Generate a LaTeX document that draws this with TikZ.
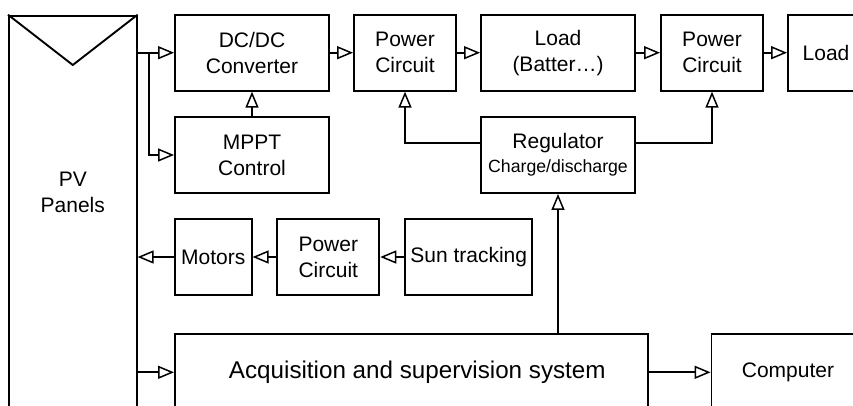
\documentclass[tikz,border=0pt]{standalone}
\usepackage{fontspec}
\setmainfont{Liberation Sans}
\usetikzlibrary{arrows.meta}

\begin{document}
\begin{tikzpicture}[
    x=1pt, y=-1pt,
    block/.style={draw=black, line width=1.9pt, fill=white, align=center, inner sep=0pt, minimum height=76pt, font=\fontsize{21}{26}\selectfont},
    wire/.style={line width=1.9pt, draw=black, -{Triangle[open, length=16pt, width=13pt, line width=1.5pt]}},
    panel/.style={draw=black, line width=1.9pt}
]
    \useasboundingbox (0,0) rectangle (853,405);
    \clip (0,0) rectangle (853,405);

    % ==================== PV PANELS ====================
    \node[block, anchor=north, minimum width=127.7pt, minimum height=430pt] (pv) at (72.8, 14.7) {};
    \draw[panel] (pv.north west) -- ([yshift=-50.3pt]pv.north) -- (pv.north east);
    \node[font=\fontsize{21}{26}\selectfont, align=center] (pvlabel) at (72.8, 192.5) {PV\\Panels};

    % ==================== TOP ROW ====================
    \node[block, minimum width=154pt] (dcdc) at (252, 52.7) {DC/DC\\Converter};
    \node[block, minimum width=102pt] (pca) at (405, 52.7) {Power\\Circuit};
    \node[block, minimum width=154pt] (loadbat) at (558, 52.7) {Load\\(Batter\ldots)};
    \node[block, minimum width=102pt] (pcb) at (712, 52.7) {Power\\Circuit};
    \node[block, minimum width=76pt] (load) at (826, 52.7) {Load};

    % ==================== SECOND ROW ====================
    \node[block, minimum width=154pt] (mppt) at (252, 155) {MPPT\\Control};
    \node[block, minimum width=154pt] (reg) at (558, 155) {Regulator\\[-2pt]{\fontsize{17.7}{22}\selectfont Charge/discharge}};

    % ==================== THIRD ROW ====================
    \node[block, minimum width=76.7pt] (motors) at (213.3, 257) {Motors};
    \node[block, minimum width=102pt] (pcc) at (328.3, 257) {Power\\Circuit};
    \node[block, minimum width=127.3pt] (sun) at (468.7, 257) {Sun tracking};

    % ==================== BOTTOM ROW ====================
    \node[block, minimum width=472.7pt, font=\fontsize{24.2}{28}\selectfont] (acq) at (411.3, 372.3) {\hspace{12pt}Acquisition and supervision system};
    \node[block, minimum width=153pt] (comp) at (788, 372.3) {Computer};

    % ==================== CONNECTIONS ====================
    \coordinate (split) at (149, 52.7);
    \draw[wire] (pv.east |- dcdc.west) -- (dcdc.west);
    \draw[wire] (split) |- (mppt.west);
    \draw[wire] (mppt.north) -- (dcdc.south);
    \draw[wire] (dcdc.east) -- (pca.west);
    \draw[wire] (pca.east) -- (loadbat.west);
    \draw[wire] (loadbat.east) -- (pcb.west);
    \draw[wire] (pcb.east) -- (load.west);
    \draw[wire] ([yshift=12.3pt]reg.west) -| (pca.south);
    \draw[wire] ([yshift=12.3pt]reg.east) -| (pcb.south);
    \draw[wire] (reg.south |- acq.north) -- (reg.south);
    \draw[wire] (sun.west) -- (pcc.east);
    \draw[wire] (pcc.west) -- (motors.east);
    \draw[wire] (motors.west) -- (motors.west -| pv.east);
    \draw[wire] (acq.west -| pv.east) -- (acq.west);
    \draw[wire] (acq.east) -- (comp.west);

\end{tikzpicture}
\end{document}
